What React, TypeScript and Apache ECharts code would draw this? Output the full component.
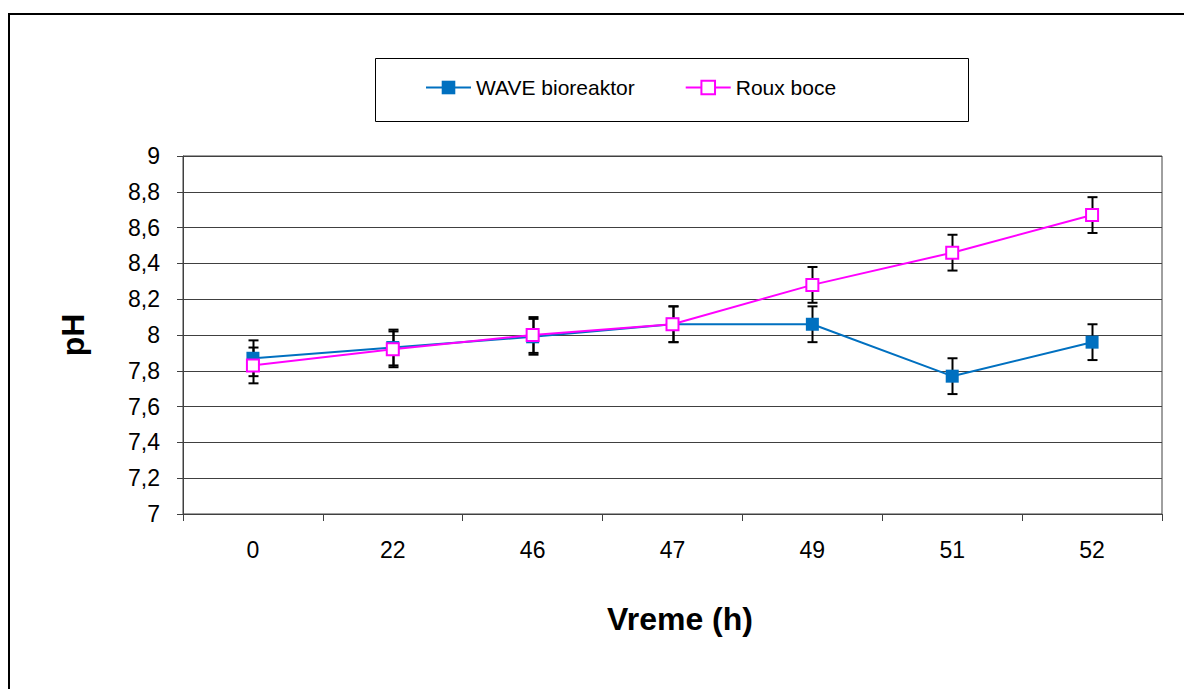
import React, { useEffect, useRef } from "react";
import * as echarts from "echarts";

const categories = ["0", "22", "46", "47", "49", "51", "52"];
const waveValues = [7.87, 7.93, 7.99, 8.06, 8.06, 7.77, 7.96];
const rouxValues = [7.83, 7.92, 8.0, 8.06, 8.28, 8.46, 8.67];
const waveErr = [0.1, 0.1, 0.1, 0.1, 0.1, 0.1, 0.1];
const rouxErr = [0.1, 0.1, 0.1, 0.1, 0.1, 0.1, 0.1];
const seriesNames = ["WAVE bioreaktor", "Roux boce"];
const xTitle = "Vreme (h)";
const yTitle = "pH";

const FONT = "'Liberation Sans', Arial, sans-serif";

function errorSeries(name: string, values: number[], errs: number[]) {
  return {
    type: "custom",
    name: name + " err",
    z: 1,
    silent: true,
    data: values.map((v, i) => [i, v - errs[i], v + errs[i]]),
    renderItem: (params: any, api: any) => {
      const x = api.value(0);
      const lo = api.coord([x, api.value(1)]);
      const hi = api.coord([x, api.value(2)]);
      const cx = Math.round(lo[0]) + 0.5;
      const w = 5;
      const style = { stroke: "#000", lineWidth: 2 };
      return {
        type: "group",
        children: [
          { type: "line", shape: { x1: cx, y1: hi[1], x2: cx, y2: lo[1] }, style },
          { type: "line", shape: { x1: cx - w, y1: hi[1], x2: cx + w, y2: hi[1] }, style },
          { type: "line", shape: { x1: cx - w, y1: lo[1], x2: cx + w, y2: lo[1] }, style },
        ],
      };
    },
  };
}

export default function App() {
  const ref = useRef<HTMLDivElement>(null);
  useEffect(() => {
    if (!ref.current) return;
    const chart = echarts.init(ref.current, undefined, { renderer: "svg" });
    chart.setOption({
      animation: false,
      backgroundColor: "#fff",
      grid: {
        left: 183,
        top: 156,
        width: 979,
        height: 358,
        show: true,
        borderColor: "#404040",
        borderWidth: 1,
        backgroundColor: "transparent",
      },
      legend: {
        left: 425,
        top: 77,
        padding: 0,
        itemWidth: 45,
        itemHeight: 17,
        itemGap: 50,
        data: seriesNames,
        textStyle: { fontFamily: FONT, fontSize: 21, color: "#000" },
      },
      xAxis: {
        type: "category",
        data: categories,
        boundaryGap: true,
        axisLine: { lineStyle: { color: "#404040", width: 1 } },
        axisTick: { show: true, interval: 0, length: 7, lineStyle: { color: "#404040" } },
        axisLabel: { fontFamily: FONT, fontSize: 23, color: "#000", margin: 24, interval: 0 },
        splitLine: { show: false },
      },
      yAxis: {
        type: "value",
        min: 7,
        max: 9,
        interval: 0.2,
        axisLine: { show: true, lineStyle: { color: "#404040", width: 1 } },
        axisTick: { show: true, length: 6, lineStyle: { color: "#404040" } },
        axisLabel: {
          fontFamily: FONT,
          fontSize: 23,
          color: "#000",
          margin: 23,
          formatter: (v: number) => String(Math.round(v * 10) / 10).replace(".", ","),
        },
        splitLine: { show: true, lineStyle: { color: "#404040", width: 1 } },
      },
      graphic: [
        {
          type: "rect",
          shape: { x: 9, y: 14, width: 1300, height: 800 },
          style: { fill: "none", stroke: "#000", lineWidth: 2 },
          silent: true,
          z: -1,
        },
        {
          type: "rect",
          shape: { x: 375.5, y: 58.5, width: 593, height: 63 },
          style: { fill: "none", stroke: "#000", lineWidth: 1 },
          silent: true,
        },
        {
          type: "text",
          x: 680,
          y: 619,
          style: {
            text: xTitle,
            font: "bold 32px " + FONT,
            fill: "#000",
            align: "center",
            verticalAlign: "middle",
          },
        },
        {
          type: "text",
          x: 73,
          y: 335,
          rotation: Math.PI / 2,
          style: {
            text: yTitle,
            font: "bold 32px " + FONT,
            fill: "#000",
            align: "center",
            verticalAlign: "middle",
          },
        },
      ],
      series: [
        errorSeries(seriesNames[0], waveValues, waveErr),
        errorSeries(seriesNames[1], rouxValues, rouxErr),
        {
          type: "line",
          name: seriesNames[0],
          data: waveValues,
          z: 3,
          symbol: "rect",
          symbolSize: 13,
          lineStyle: { color: "#0070C0", width: 2 },
          itemStyle: { color: "#0070C0", borderWidth: 0 },
        },
        {
          type: "line",
          name: seriesNames[1],
          data: rouxValues,
          z: 4,
          symbol: "rect",
          symbolSize: 12,
          lineStyle: { color: "#FF00FF", width: 2 },
          itemStyle: { color: "#fff", borderColor: "#FF00FF", borderWidth: 2 },
        },
      ],
    });
    return () => chart.dispose();
  }, []);
  return (
    <div
      ref={ref}
      style={{ position: "fixed", left: 0, top: 0, width: 1184, height: 689 }}
    />
  );
}
